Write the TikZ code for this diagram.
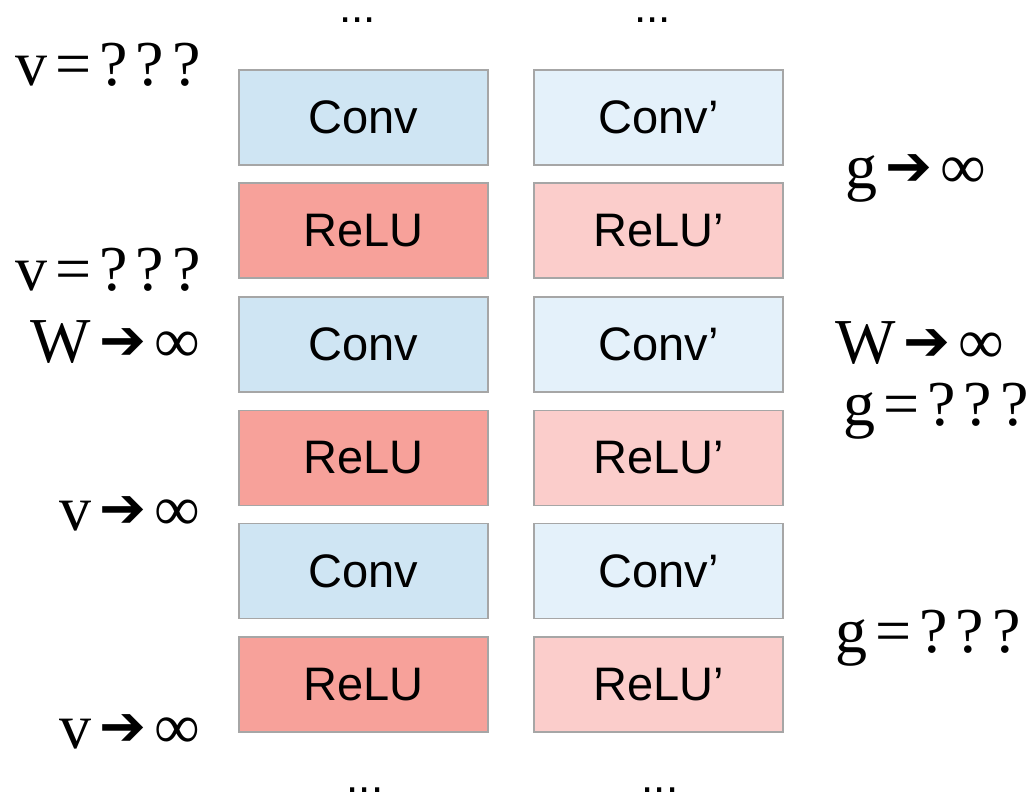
\documentclass[tikz,border=0pt]{standalone}
\usepackage{fontspec}
\setmainfont{Liberation Serif}
\setsansfont{Liberation Sans}
\newfontfamily\arrowfont{DejaVu Sans}
\definecolor{convc}{HTML}{CFE5F3}
\definecolor{reluc}{HTML}{F7A19A}
\definecolor{convp}{HTML}{E4F1FA}
\definecolor{relup}{HTML}{FBCDCB}
\definecolor{edgec}{HTML}{A6A6A6}
\newcommand{\ka}{\kern8pt}
\newcommand{\kb}{\kern8pt}
\newcommand{\arr}{\raisebox{3pt}{\arrowfont\fontsize{56}{56}\selectfont ➔}}
\begin{document}
\begin{tikzpicture}[x=1pt,y=-1pt,
  blk/.style={draw=edgec,line width=1.2pt,minimum width=249pt,minimum height=95pt,inner sep=0pt,font=\sffamily\fontsize{47}{47}\selectfont},
  conv/.style={blk,fill=convc},
  relu/.style={blk,fill=reluc},
  convq/.style={blk,fill=convp},
  reluq/.style={blk,fill=relup},
  lab/.style={inner sep=0pt,font=\fontsize{64}{64}\selectfont},
  dots/.style={inner sep=0pt,font=\sffamily\fontsize{44}{44}\selectfont}]
\useasboundingbox (0,0) rectangle (1028,792);
% left column
\node[conv] (c1) at (363.5,117.5) {Conv};
\node[relu] (r1) at (363.5,230.5) {ReLU};
\node[conv] (c2) at (363.5,344.5) {Conv};
\node[relu] (r2) at (363.5,458) {ReLU};
\node[conv] (c3) at (363.5,571) {Conv};
\node[relu] (r3) at (363.5,684.5) {ReLU};
% right column
\node[convq] (q1) at (658.5,117.5) {Conv’};
\node[reluq] (s1) at (658.5,230.5) {ReLU’};
\node[convq] (q2) at (658.5,344.5) {Conv’};
\node[reluq] (s2) at (658.5,458) {ReLU’};
\node[convq] (q3) at (658.5,571) {Conv’};
\node[reluq] (s3) at (658.5,684.5) {ReLU’};
% dots
\node[dots,anchor=base] (d1) at (357.5,23) {...};
\node[dots,anchor=base] (d2) at (652.5,23) {...};
\node[dots,anchor=base] (d3) at (365,792) {...};
\node[dots,anchor=base] (d4) at (660,792) {...};
% left labels
\node[lab,anchor=base east] (l1) at (201,85) {v\ka=\ka?\ka?\ka?};
\node[lab,anchor=base east] (l2) at (201,290) {v\ka=\ka?\ka?\ka?};
\node[lab,anchor=base east] (l3) at (200,362) {W\kb\arr\kb∞};
\node[lab,anchor=base east] (l4) at (200,530) {v\kb\arr\kb∞};
\node[lab,anchor=base east] (l5) at (200,748) {v\kb\arr\kb∞};
% right labels
\node[lab,anchor=base west] (g1) at (845,188) {g\kb\arr\kb∞};
\node[lab,anchor=base west] (g2) at (835,363) {W\kb\arr\kb∞};
\node[lab,anchor=base west] (g3) at (843,425) {g\ka=\ka?\ka?\ka?};
\node[lab,anchor=base west] (g4) at (835,652) {g\ka=\ka?\ka?\ka?};
\end{tikzpicture}
\end{document}
